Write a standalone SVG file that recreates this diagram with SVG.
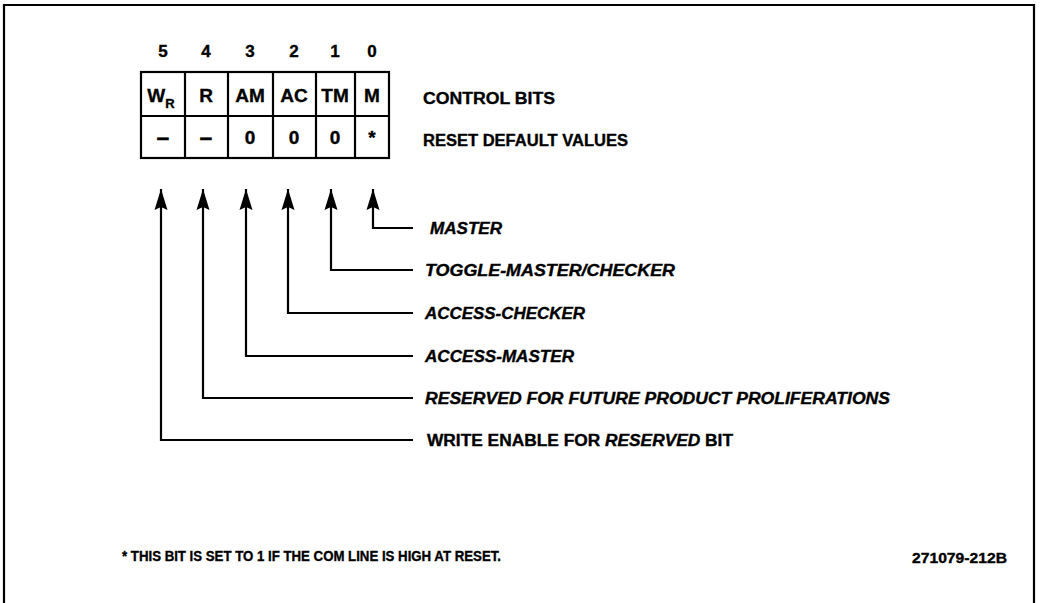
<svg xmlns="http://www.w3.org/2000/svg" width="1040" height="603" viewBox="0 0 1040 603">
<style>
text{font-family:"Liberation Sans",Arial,sans-serif;font-weight:bold;fill:#000;stroke:#000;stroke-width:0.35}
.hd{font-size:17px;text-anchor:middle}
.cell{font-size:19px;text-anchor:middle}
.dash{font-size:23px}
.lab{font-size:16px;font-style:italic}
.side{font-size:16px}
.note{font-size:14px}
.ln{fill:none;stroke:#000;stroke-width:2.2}
</style>
<defs>
<marker id="ah" markerUnits="userSpaceOnUse" markerWidth="22" markerHeight="14" viewBox="0 0 22 14" refX="21" refY="7" orient="auto">
<path d="M0,0.5 L21,7 L0,13.5 L3,7 z" fill="#000"/>
</marker>
</defs>
<rect x="0" y="0" width="1040" height="603" fill="#fff"/>
<path class="ln" d="M4,610 V5 H1034 V610"/>
<g id="bit-numbers">
<text class="hd" x="163" y="57">5</text>
<text class="hd" x="206" y="57">4</text>
<text class="hd" x="250" y="57">3</text>
<text class="hd" x="294" y="57">2</text>
<text class="hd" x="335" y="57">1</text>
<text class="hd" x="372" y="57">0</text>
</g>
<g id="register">
<rect class="ln" x="141" y="72" width="248" height="86"/>
<line class="ln" x1="141" y1="116" x2="389" y2="116"/>
<line class="ln" x1="185" y1="72" x2="185" y2="158"/>
<line class="ln" x1="228" y1="72" x2="228" y2="158"/>
<line class="ln" x1="273" y1="72" x2="273" y2="158"/>
<line class="ln" x1="316" y1="72" x2="316" y2="158"/>
<line class="ln" x1="355" y1="72" x2="355" y2="158"/>
<text class="cell" x="161" y="102">W<tspan font-size="13" dy="6">R</tspan></text>
<text class="cell" x="206" y="102">R</text>
<text class="cell" x="250" y="102">AM</text>
<text class="cell" x="294" y="102">AC</text>
<text class="cell" x="335" y="102">TM</text>
<text class="cell" x="372" y="102">M</text>
<text class="cell dash" x="163" y="145">–</text>
<text class="cell dash" x="206" y="145">–</text>
<text class="cell" x="250" y="144">0</text>
<text class="cell" x="294" y="144">0</text>
<text class="cell" x="335" y="144">0</text>
<text class="cell" x="372" y="144" font-size="15">*</text>
</g>
<g id="row-labels">
<text class="side" x="423" y="104" textLength="132" lengthAdjust="spacingAndGlyphs">CONTROL BITS</text>
<text class="side" x="423" y="146" textLength="205" lengthAdjust="spacingAndGlyphs">RESET DEFAULT VALUES</text>
</g>
<g id="connectors">
<path class="ln" d="M413,228 H373 V189" marker-end="url(#ah)"/>
<path class="ln" d="M413,270 H331 V189" marker-end="url(#ah)"/>
<path class="ln" d="M413,313 H288 V189" marker-end="url(#ah)"/>
<path class="ln" d="M413,356 H246 V189" marker-end="url(#ah)"/>
<path class="ln" d="M413,398 H203 V189" marker-end="url(#ah)"/>
<path class="ln" d="M413,440 H161 V189" marker-end="url(#ah)"/>
</g>
<g id="label-master"><text class="lab" x="430" y="234" textLength="72" lengthAdjust="spacingAndGlyphs">MASTER</text></g>
<g id="label-toggle"><text class="lab" x="425" y="276" textLength="250" lengthAdjust="spacingAndGlyphs">TOGGLE-MASTER/CHECKER</text></g>
<g id="label-access-checker"><text class="lab" x="425" y="319" textLength="160" lengthAdjust="spacingAndGlyphs">ACCESS-CHECKER</text></g>
<g id="label-access-master"><text class="lab" x="425" y="362" textLength="149" lengthAdjust="spacingAndGlyphs">ACCESS-MASTER</text></g>
<g id="label-reserved"><text class="lab" x="425" y="404" textLength="465" lengthAdjust="spacingAndGlyphs">RESERVED FOR FUTURE PRODUCT PROLIFERATIONS</text></g>
<g id="label-write"><text class="side" x="427" y="446" textLength="306" lengthAdjust="spacingAndGlyphs">WRITE ENABLE FOR <tspan font-style="italic">RESERVED</tspan> BIT</text></g>
<g id="footnote"><text class="note" x="122" y="561" textLength="379" lengthAdjust="spacingAndGlyphs">* THIS BIT IS SET TO 1 IF THE COM LINE IS HIGH AT RESET.</text></g>
<g id="figure-id"><text class="note" x="912" y="563" textLength="95" lengthAdjust="spacingAndGlyphs">271079-212B</text></g>
</svg>
